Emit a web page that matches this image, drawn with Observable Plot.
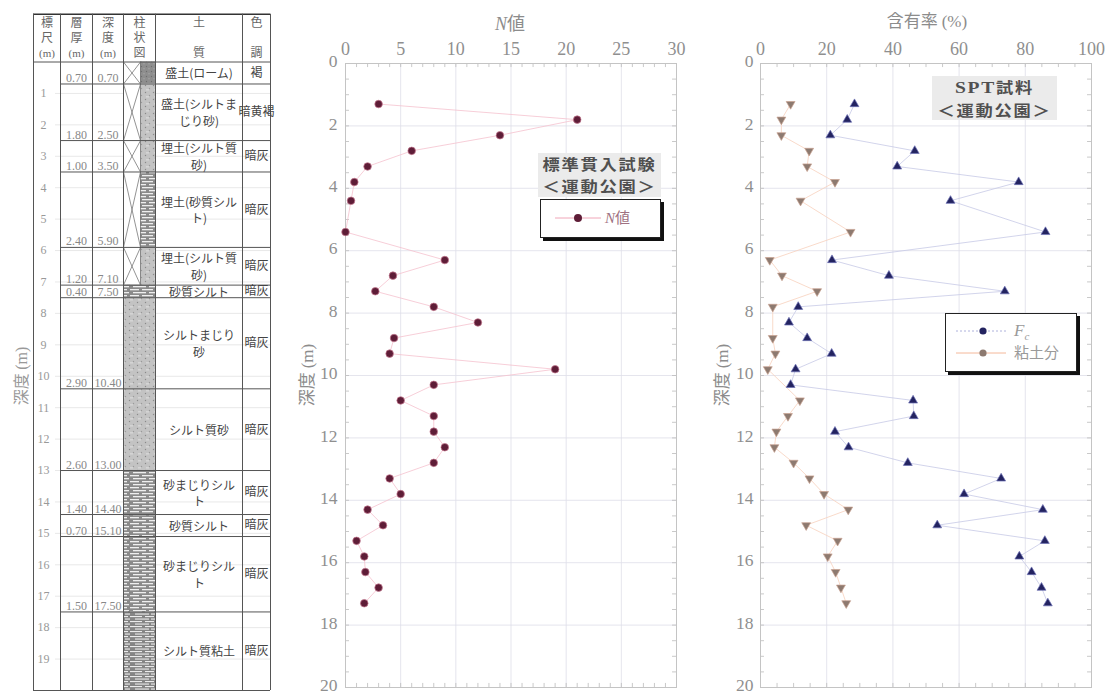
<!DOCTYPE html>
<html lang="ja">
<head>
<meta charset="utf-8">
<title>ボーリング柱状図・N値・含有率</title>
<script src="https://cdn.jsdelivr.net/npm/d3@7"></script>
<script src="https://cdn.jsdelivr.net/npm/@observablehq/plot@0.6"></script>
<style>
  html, body { margin: 0; padding: 0; background: #fff; }
  #chart { position: relative; width: 1111px; height: 695px; overflow: hidden; font-family: "Noto Sans CJK JP", sans-serif; }
  .panel { position: absolute; top: 0; }
  .panel svg { overflow: visible; }
  .label { position: absolute; color: #8c8c8c; white-space: nowrap; transform: translate(-50%, -50%); }
  .vlabel { transform: translate(-50%, -50%) rotate(-90deg); }
  .serif { font-family: "Liberation Serif", serif; }
  .tagbox { position: absolute; background: #ebebeb; color: #505050; font-weight: 700; text-align: center; font-size: 15px; line-height: 22px; }
  .tagbox div { transform: scaleX(1.15); letter-spacing: 1.5px; white-space: nowrap; }
  .legend { position: absolute; background: #fff; border: 1.5px solid #222; box-shadow: 3px 3px 0 #111; }
  .legend svg { display: block; }
</style>
</head>
<body>
<div id="chart"></div>
<script>
// ---- Sample depths (m) shared by the SPT and the laboratory results ----
const depths = [1.3, 1.8, 2.3, 2.8, 3.3, 3.8, 4.4, 5.4, 6.3, 6.8, 7.3, 7.8, 8.3, 8.8, 9.3, 9.8,
                10.3, 10.8, 11.3, 11.8, 12.3, 12.8, 13.3, 13.8, 14.3, 14.8, 15.3, 15.8, 16.3, 16.8, 17.3];
// SPT blow counts (N値)
const nValues = [3, 21, 14, 6, 2, 0.8, 0.5, 0, 9, 4.3, 2.7, 8, 12, 4.4, 4, 19,
                 8, 5, 8, 8, 9, 8, 4, 5, 2, 3.4, 1, 1.7, 1.8, 3, 1.7];
// Fines content Fc (%)
const fcValues = [28.4, 26.2, 21.1, 46.6, 41.3, 78, 57.4, 86.1, 21.6, 38.8, 73.8, 11.4, 8.6, 14.1, 21.5, 10.6,
                  9.1, 46.1, 46.3, 22.5, 26.6, 44.5, 72.7, 61.5, 85.3, 53.4, 85.9, 78.2, 81.9, 84.9, 86.8];
// Clay fraction (%), null where not measured
const clayValues = [9.1, 6.3, 6.3, 14.7, 14.1, 22.5, 12.1, 27.2, 2.8, 6.5, 17.1, 3.7, null, 3.7, 4.5, 2.2,
                    null, 11.9, 8.3, 4.8, 4.2, 10.0, 14.8, 19.2, 26.5, 13.8, 23.3, 20.3, 22.7, 24.3, 25.9];

// ---- Boring log ----
const layerThickness = [0.70, 1.80, 1.00, 2.40, 1.20, 0.40, 2.90, 2.60, 1.40, 0.70, 1.50, null];
const layerBottom    = [0.70, 2.50, 3.50, 5.90, 7.10, 7.50, 10.40, 13.00, 14.40, 15.10, 17.50, null];
const soilNames = ["盛土(ローム)", "盛土(シルトま\nじり砂)", "埋土(シルト質\n砂)", "埋土(砂質シル\nト)",
                   "埋土(シルト質\n砂)", "砂質シルト", "シルトまじり\n砂", "シルト質砂",
                   "砂まじりシル\nト", "砂質シルト", "砂まじりシル\nト", "シルト質粘土"];
const soilColors = ["褐", "暗黄褐", "暗灰", "暗灰", "暗灰", "暗灰", "暗灰", "暗灰", "暗灰", "暗灰", "暗灰", "暗灰"];
const soilPatterns = ["loam", "sand", "sand", "silt", "sand", "silt", "sand", "sand", "silt", "silt", "silt", "clay"];
const madeGround = [true, true, true, true, true, false, false, false, false, false, false, false];
const headerRows = [["標", "尺", "(m)"], ["層", "厚", "(m)"], ["深", "度", "(m)"], ["柱", "状", "図"], ["土", "", "質"], ["色", "", "調"]];

// ---- Axis ticks ----
const depthTicks = [0, 2, 4, 6, 8, 10, 12, 14, 16, 18, 20];
const scaleTicks = [1, 2, 3, 4, 5, 6, 7, 8, 9, 10, 11, 12, 13, 14, 15, 16, 17, 18, 19];
const nTicks = [0, 5, 10, 15, 20, 25, 30];
const pctTicks = [0, 20, 40, 60, 80, 100];

const nData = depths.map((depth, i) => ({depth, n: nValues[i]}));
const fcData = depths.map((depth, i) => ({depth, value: fcValues[i]}));
const clayData = depths.map((depth, i) => ({depth, value: clayValues[i]})).filter(d => d.value != null);

const DEPTH_MAX = 20;
const layers = layerBottom.map((b, i) => ({
  top: i === 0 ? 0 : layerBottom[i - 1],
  bottom: b ?? DEPTH_MAX,
  thickness: layerThickness[i],
  depthLabel: b,
  name: soilNames[i],
  color: soilColors[i],
  pattern: soilPatterns[i],
  made: madeGround[i]
}));

const chart = document.getElementById("chart");
const fmt2 = d3.format(".2f");
const GREY = "#8f8f8f";

function place(node, left) {
  const div = document.createElement("div");
  div.className = "panel";
  div.style.left = left + "px";
  div.appendChild(node);
  chart.appendChild(div);
}
function addLabel(html, x, y, cls, style) {
  const d = document.createElement("div");
  d.className = "label " + (cls || "");
  d.style.left = x + "px";
  d.style.top = y + "px";
  if (style) d.style.cssText += style;
  d.innerHTML = html;
  chart.appendChild(d);
}

// ---------------- Boring log table ----------------
// column edges of the log table (px across the panel)
const col = [33, 60, 92, 123, 155, 242, 270];
const pillarSplit = 140;
const HEADER_TOP = -1.52; // header band drawn above depth 0
const colMid = i => (col[i] + col[i + 1]) / 2;

const patternMarks = ["loam", "sand", "silt", "clay"].map(p =>
  Plot.rect(layers.filter(d => d.pattern === p), {
    x1: d => d.made ? pillarSplit : col[3], x2: col[4], y1: "top", y2: "bottom", fill: `url(#${p})`
  })
);

const headerMarks = [];
headerRows.forEach((rows, c) => {
  rows.forEach((t, r) => {
    if (!t) return;
    headerMarks.push(Plot.text([t], {
      x: colMid(c), frameAnchor: "top", dy: [-39, -24, -8.5][r], text: d => d,
      fontSize: t === "(m)" ? 11 : 12, fill: "#666",
      fontFamily: t === "(m)" ? "Liberation Serif" : "Noto Sans CJK JP", lineAnchor: "middle"
    }));
  });
});

const tablePlot = Plot.plot({
  width: 290, height: 695,
  marginLeft: 0, marginRight: 0, marginTop: 61.5, marginBottom: 5,
  x: {domain: [0, 290], axis: null},
  y: {domain: [0, DEPTH_MAX], reverse: true, axis: null},
  style: {background: "transparent", overflow: "visible"},
  marks: [
    // faint metre lines
    Plot.ruleY(scaleTicks, {x1: col[0] + 22, x2: col[3], stroke: "#e2e2e2", strokeWidth: 0.8}),
    Plot.ruleY(scaleTicks, {x1: col[4], x2: col[6], stroke: "#e2e2e2", strokeWidth: 0.8}),
    ...patternMarks,
    // crosses marking made ground
    Plot.link(layers.filter(d => d.made), {x1: col[3], x2: pillarSplit, y1: "top", y2: "bottom", stroke: "#777", strokeWidth: 0.8}),
    Plot.link(layers.filter(d => d.made), {x1: pillarSplit, x2: col[3], y1: "top", y2: "bottom", stroke: "#777", strokeWidth: 0.8}),
    Plot.ruleX(layers.filter(d => d.made), {x: pillarSplit, y1: "top", y2: "bottom", stroke: "#777", strokeWidth: 0.8}),
    // layer boundaries
    Plot.ruleY(layers.filter(d => d.depthLabel != null), {y: "bottom", x1: col[1], x2: col[6], stroke: "#555", strokeWidth: 1}),
    // table frame
    Plot.ruleY([HEADER_TOP], {x1: col[0], x2: col[6], stroke: "#333", strokeWidth: 1.6}),
    Plot.ruleY([0, DEPTH_MAX], {x1: col[0], x2: col[6], stroke: "#555", strokeWidth: 1}),
    Plot.ruleX(col, {y1: HEADER_TOP, y2: DEPTH_MAX, stroke: "#555", strokeWidth: 1}),
    ...headerMarks,
    // scale numbers
    Plot.text(scaleTicks, {x: 43, y: d => d, text: d => String(d), fontSize: 12, fill: "#999", fontFamily: "Liberation Serif"}),
    // thickness and depth of each layer
    Plot.text(layers.filter(d => d.thickness != null), {x: colMid(1), y: "bottom", text: d => fmt2(d.thickness),
      lineAnchor: "bottom", dy: -2, fontSize: 12, fill: "#888", fontFamily: "Liberation Serif"}),
    Plot.text(layers.filter(d => d.depthLabel != null), {x: colMid(2), y: "bottom", text: d => fmt2(d.depthLabel),
      lineAnchor: "bottom", dy: -2, fontSize: 12, fill: "#888", fontFamily: "Liberation Serif"}),
    // soil description and colour
    Plot.text(layers, {x: colMid(4), y: d => (d.top + d.bottom) / 2, text: "name", lineAnchor: "middle",
      lineHeight: 1.35, fontSize: 12, fill: "#444", fontFamily: "Noto Sans CJK JP"}),
    Plot.text(layers, {x: colMid(5), y: d => (d.top + d.bottom) / 2, text: "color", lineAnchor: "middle",
      fontSize: 12, fill: "#444", fontFamily: "Noto Sans CJK JP"})
  ]
});

// fill patterns for the column section
(function addPatterns(svg) {
  const defs = d3.select(svg).insert("defs", ":first-child");
  const mk = (id, w, h, bg) => {
    const p = defs.append("pattern").attr("id", id).attr("patternUnits", "userSpaceOnUse").attr("width", w).attr("height", h);
    p.append("rect").attr("width", w).attr("height", h).attr("fill", bg);
    return p;
  };
  const loam = mk("loam", 5, 5, "#8e8e8e");
  loam.append("circle").attr("cx", 1.5).attr("cy", 1.5).attr("r", 0.7).attr("fill", "#6e6e6e");
  loam.append("circle").attr("cx", 4).attr("cy", 3.8).attr("r", 0.7).attr("fill", "#a8a8a8");
  const sand = mk("sand", 8, 7, "#c3c3c3");
  sand.append("circle").attr("cx", 1.5).attr("cy", 1.5).attr("r", 0.7).attr("fill", "#8a8a8a");
  sand.append("circle").attr("cx", 5.5).attr("cy", 4.5).attr("r", 0.7).attr("fill", "#9a9a9a");
  sand.append("rect").attr("x", 2).attr("y", 5.5).attr("width", 3).attr("height", 0.8).attr("fill", "#e6e6e6");
  const silt = mk("silt", 26, 6, "#8a8a8a");
  [[0, 1, 9], [12, 1, 11], [3, 4, 13], [19, 4, 6]].forEach(([x, y, w]) =>
    silt.append("rect").attr("x", x).attr("y", y).attr("width", w).attr("height", 1.3).attr("fill", "#eeeeee"));
  const clay = mk("clay", 26, 5, "#858585");
  [[0, 1, 12], [15, 1, 9], [5, 3.5, 14], [21, 3.5, 5]].forEach(([x, y, w]) =>
    clay.append("rect").attr("x", x).attr("y", y).attr("width", w).attr("height", 1.1).attr("fill", "#ececec"));
})(tablePlot);
place(tablePlot, 0);

// ---------------- shared frame decorations ----------------
function frameMarks(xMax, xMinorStep, xMinorLen) {
  const xMinor = d3.range(0, xMax + 1e-9, xMinorStep);
  const yMinor = d3.range(0, DEPTH_MAX + 1e-9, 0.5);
  const yLen = 0.13;
  return [
    Plot.ruleX(xMinor, {y1: DEPTH_MAX, y2: DEPTH_MAX - yLen, stroke: "#bbb", strokeWidth: 0.8}),
    Plot.ruleX(xMinor, {y1: 0, y2: yLen, stroke: "#bbb", strokeWidth: 0.8}),
    Plot.ruleY(yMinor, {x1: 0, x2: xMinorLen, stroke: "#bbb", strokeWidth: 0.8}),
    Plot.ruleY(yMinor, {x1: xMax, x2: xMax - xMinorLen, stroke: "#bbb", strokeWidth: 0.8}),
    Plot.frame({stroke: "#c4c4c4", strokeWidth: 1})
  ];
}
const axisStyle = {fontFamily: "Liberation Serif", fontSize: "18px", color: GREY, background: "transparent", overflow: "visible"};

// ---------------- N値 ----------------
const nPlot = Plot.plot({
  width: 420, height: 695,
  marginLeft: 55, marginRight: 34, marginTop: 63, marginBottom: 8,
  x: {domain: [0, 30]},
  y: {domain: [0, DEPTH_MAX], reverse: true},
  style: axisStyle,
  marks: [
    Plot.gridX([5, 10, 15, 20, 25], {stroke: "#dedee8", strokeOpacity: 1, strokeWidth: 0.8}),
    Plot.gridY(depthTicks.slice(1, -1), {stroke: "#dedee8", strokeOpacity: 1, strokeWidth: 0.8}),
    ...frameMarks(30, 1, 0.36),
    Plot.axisX(nTicks, {anchor: "top", tickSize: 0, tickPadding: 9, label: null}),
    Plot.axisY(depthTicks, {anchor: "left", tickSize: 0, tickPadding: 8, label: null, fontSize: 17.5, dy: -2}),
    Plot.line(nData, {x: "n", y: "depth", stroke: "#f5c2ce", strokeWidth: 0.8}),
    Plot.dot(nData, {x: "n", y: "depth", r: 3.8, fill: "#5e1d37", stroke: "#c5788f", strokeWidth: 0.7})
  ]
});
place(nPlot, 290);

// ---------------- 含有率 ----------------
const triangleDown = {
  draw(context, size) {
    const s3 = Math.sqrt(3);
    const y = -Math.sqrt(size / (s3 * 3));
    context.moveTo(0, -y * 2);
    context.lineTo(-s3 * y, y);
    context.lineTo(s3 * y, y);
    context.closePath();
  }
};
const pctPlot = Plot.plot({
  width: 411, height: 695,
  marginLeft: 60, marginRight: 20, marginTop: 63, marginBottom: 8,
  x: {domain: [0, 100]},
  y: {domain: [0, DEPTH_MAX], reverse: true},
  style: axisStyle,
  marks: [
    Plot.gridX([20, 40, 60, 80], {stroke: "#dedee8", strokeOpacity: 1, strokeWidth: 0.8}),
    Plot.gridY(depthTicks.slice(1, -1), {stroke: "#dedee8", strokeOpacity: 1, strokeWidth: 0.8}),
    ...frameMarks(100, 5, 1.2),
    Plot.axisX(pctTicks, {anchor: "top", tickSize: 0, tickPadding: 9, label: null}),
    Plot.axisY(depthTicks, {anchor: "left", tickSize: 0, tickPadding: 7, label: null, fontSize: 17.5, dy: -2}),
    Plot.line(clayData, {x: "value", y: "depth", stroke: "#f8d0bc", strokeWidth: 0.8}),
    Plot.line(fcData, {x: "value", y: "depth", stroke: "#c6c9e6", strokeWidth: 0.8}),
    Plot.dot(clayData, {x: "value", y: "depth", symbol: triangleDown, r: 3.3, fill: "#8d7a70", stroke: "#c9a290", strokeWidth: 0.7}),
    Plot.dot(fcData, {x: "value", y: "depth", symbol: "triangle", r: 3.3, fill: "#232360", stroke: "#6c70b4", strokeWidth: 0.7})
  ]
});
place(pctPlot, 700);

// ---------------- titles and axis names ----------------
addLabel('<span class="serif" style="font-style:italic">N</span>値', 510, 22, "", "font-size:18px");
addLabel('含有率 <span class="serif">(%)</span>', 927, 19, "", "font-size:17px");
addLabel('深度 <span class="serif">(m)</span>', 20, 376, "vlabel", "font-size:16px;color:#999");
addLabel('深度 <span class="serif">(m)</span>', 305, 375, "vlabel", "font-size:17px");
addLabel('深度 <span class="serif">(m)</span>', 720, 375, "vlabel", "font-size:17px");

// ---------------- legends ----------------
function tagBox(lines, left, top, width, height) {
  const d = document.createElement("div");
  d.className = "tagbox";
  Object.assign(d.style, {left: left + "px", top: top + "px", width: width + "px", height: height + "px", boxSizing: "border-box"});
  d.innerHTML = lines.map(l => `<div>${l}</div>`).join("");
  chart.appendChild(d);
}
tagBox(["標準貫入試験", "＜運動公園＞"], 538, 153, 123, 44);
tagBox(['<span class="serif" style="font-size:17px">SPT</span>試料', "＜運動公園＞"], 932, 76, 125, 44);

function legendBox(left, top, width, height, rows) {
  const d = document.createElement("div");
  d.className = "legend";
  Object.assign(d.style, {left: left + "px", top: top + "px", width: width + "px", height: height + "px"});
  const svg = d3.create("svg").attr("width", width).attr("height", height);
  rows.forEach(r => {
    svg.append("line").attr("x1", r.x1).attr("x2", r.x2).attr("y1", r.y).attr("y2", r.y)
      .attr("stroke", r.line).attr("stroke-width", 1).attr("stroke-dasharray", r.dash || null);
    svg.append("circle").attr("cx", r.cx).attr("cy", r.y).attr("r", r.r).attr("fill", r.fill);
    const t = svg.append("text").attr("x", r.tx).attr("y", r.y).attr("dy", "0.35em")
      .attr("fill", r.color).attr("font-size", 15).attr("font-family", "Noto Sans CJK JP");
    r.text(t);
  });
  d.appendChild(svg.node());
  chart.appendChild(d);
}
legendBox(540, 199, 119, 37, [{
  y: 18, x1: 14, x2: 60, cx: 37, r: 4.0, line: "#f0a6b8", fill: "#5e1d37", tx: 64, color: "#a07282",
  text: t => { t.append("tspan").attr("font-family", "Liberation Serif").attr("font-style", "italic").text("N"); t.append("tspan").text("値"); }
}]);
legendBox(945, 313, 130, 57, [{
  y: 17, x1: 10, x2: 60, cx: 37, r: 3.6, line: "#aeb2dc", dash: "2,2", fill: "#232360", tx: 68, color: "#9a9a9a",
  text: t => {
    t.append("tspan").attr("font-family", "Liberation Serif").attr("font-style", "italic").attr("font-size", 17).text("F");
    t.append("tspan").attr("font-family", "Liberation Serif").attr("font-style", "italic").attr("font-size", 11).attr("dy", "0.35em").text("c");
  }
}, {
  y: 39, x1: 10, x2: 60, cx: 37, r: 3.6, line: "#f4b89a", fill: "#8d7a70", tx: 68, color: "#9a9a9a",
  text: t => { t.text("粘土分"); }
}]);
</script>
</body>
</html>
